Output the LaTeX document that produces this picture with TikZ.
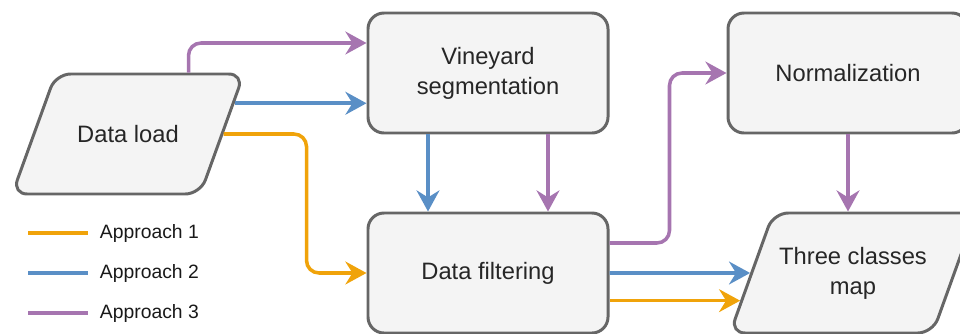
\documentclass[tikz,border=0pt]{standalone}
\usepackage{fontspec}
\setmainfont{Liberation Sans}
\usetikzlibrary{positioning, calc, shapes.geometric, arrows.meta}

\definecolor{ap1}{HTML}{F0A30A}
\definecolor{ap2}{HTML}{5A8FC6}
\definecolor{ap3}{HTML}{A675B0}
\definecolor{boxline}{HTML}{666666}
\definecolor{boxfill}{HTML}{F4F4F4}

\tikzset{
  process/.style={draw=boxline, fill=boxfill, line width=1.7pt, rounded corners=0.32cm,
    minimum width=4.8cm, minimum height=2.4cm, align=center,
    font=\fontsize{13.5}{17}\selectfont, text=black!85},
  % slant of the trapezium follows the text box height, so inner ysep pads it to full height
  io/.style={trapezium, trapezium left angle=70, trapezium right angle=110,
    trapezium stretches body=true, draw=boxline, fill=boxfill, line width=1.7pt,
    rounded corners=0.3cm, minimum width=4.63cm, minimum height=2.4cm,
    inner ysep=29pt, align=center, font=\fontsize{13.5}{17}\selectfont, text=black!85},
  flow/.style={line width=2pt, rounded corners=0.25cm,
    -{Stealth[length=12pt, width=13pt, inset=4pt]}},
}

\begin{document}
\begin{tikzpicture}[node distance=4cm and 7.2cm, on grid]
    \useasboundingbox (0,0) rectangle (19.2,6.66);

    % Define the nodes
    \node[process] (seg) at (9.76,5.2) {Vineyard\\segmentation};
    \node[process] (filt) [below=of seg] {Data filtering};
    \node[process] (norm) [right=of seg] {Normalization};
    \node[io, inner ysep=19pt] (map) [below=of norm, xshift=0.1cm] {Three classes\\map};
    \node[io] (load) [left=of seg, yshift=-1.22cm] {Data load};

    % Approach 1
    \draw[flow, ap1] (load.east) -- ($(load.east -| filt.west)+(-1.2,0)$) |- (filt.west);
    \coordinate (mapin1) at ($(map.west)!0.45!(map.bottom left corner)$);
    \draw[flow, ap1] (filt.east |- mapin1) -- (mapin1);

    % Approach 2
    \coordinate (loadout2) at ($(load.east)!0.5!(load.top right corner)$);
    \draw[flow, ap2] (loadout2) -- (loadout2 -| seg.west);
    \draw[flow, ap2] ($(seg.south)+(-1.2,0)$) -- ($(filt.north)+(-1.2,0)$);
    \draw[flow, ap2] (filt.east) -- (map.west);

    % Approach 3
    \draw[flow, ap3] ($(load.top left corner)!0.7!(load.top right corner)$) |- ($(seg.west)+(0,0.6)$);
    \draw[flow, ap3] ($(seg.south)+(1.2,0)$) -- ($(filt.north)+(1.2,0)$);
    \draw[flow, ap3] ($(filt.east)+(0,0.6)$) -- ++(1.2,0) |- (norm.west);
    \draw[flow, ap3] (norm.south) -- (norm.south |- map.north);

    % Legend
    \foreach \i/\y in {1/2.0, 2/1.2, 3/0.4} {
        \coordinate (leg\i) at (0.56,\y);
        \draw[ap\i, line width=2.2pt] (leg\i) -- ++(1.2,0)
            node[anchor=west, xshift=0.2cm, inner sep=0pt, text=black!90,
                 font=\fontsize{11}{13}\selectfont] {Approach \i};
    }

\end{tikzpicture}
\end{document}
